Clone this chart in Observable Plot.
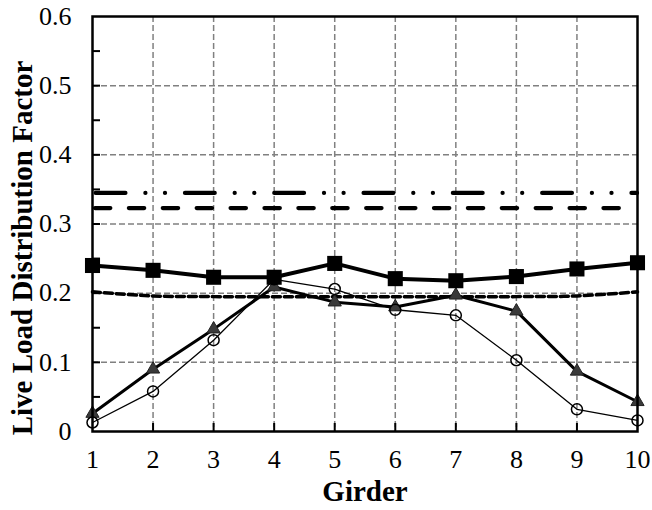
<!DOCTYPE html>
<html><head><meta charset="utf-8">
<script src="https://cdn.jsdelivr.net/npm/d3@7"></script>
<script src="https://cdn.jsdelivr.net/npm/@observablehq/plot@0.6"></script>
<style>
body{margin:0;background:#fff}
#chart svg{display:block}
</style>
</head><body><div id="chart"></div>
<script>
const girders = [1, 2, 3, 4, 5, 6, 7, 8, 9, 10];
const squareSeries = [0.240, 0.233, 0.223, 0.223, 0.243, 0.221, 0.218, 0.224, 0.235, 0.244];
const triangleSeries = [0.026, 0.090, 0.148, 0.209, 0.187, 0.180, 0.197, 0.174, 0.087, 0.043];
const circleSeries = [0.013, 0.058, 0.132, 0.220, 0.206, 0.176, 0.168, 0.103, 0.032, 0.016];
const shortDashSeries = [0.202, 0.196, 0.195, 0.195, 0.195, 0.195, 0.195, 0.195, 0.196, 0.202];
const dashDotLevel = [0.345];
const dashLevel = [0.323];
const yTickValues = [0, 0.1, 0.2, 0.3, 0.4, 0.5, 0.6];
const yTickLabels = ["0", "0.1", "0.2", "0.3", "0.4", "0.5", "0.6"];
const yMinorTicks = [0.05, 0.1, 0.15, 0.2, 0.25, 0.3, 0.35, 0.4, 0.45, 0.5, 0.55];
const xTickLabels = ["1", "2", "3", "4", "5", "6", "7", "8", "9", "10"];
const xTitle = "Girder";
const yTitle = "Live Load Distribution Factor";

const toRows = vals => girders.map((g, i) => ({girder: g, value: vals[i]}));
const squares = toRows(squareSeries);
const triangles = toRows(triangleSeries);
const circles = toRows(circleSeries);
const shortDash = toRows(shortDashSeries);
const innerGirders = girders.slice(1, -1);
const innerY = yTickValues.slice(1, -1);

const font = "'Liberation Serif', 'Times New Roman', Times, serif";
const gridStyle = {stroke: "#808080", strokeOpacity: 1, strokeWidth: 1.5, strokeDasharray: "6,3"};

const chart = Plot.plot({
  width: 652,
  height: 510,
  marginLeft: 92,
  marginRight: 15,
  marginTop: 16,
  marginBottom: 79,
  style: {fontFamily: font, background: "#fff", color: "#000"},
  x: {domain: [1, 10]},
  y: {domain: [0, 0.6]},
  marks: [
    Plot.gridX(innerGirders, gridStyle),
    Plot.gridY(innerY, gridStyle),
    Plot.tickY(yMinorTicks, {y: d => d, stroke: "#000", strokeWidth: 2, insetRight: 537}),
    Plot.tickX(innerGirders, {x: d => d, stroke: "#000", strokeWidth: 2, insetTop: 407}),
    Plot.ruleY(dashDotLevel, {stroke: "#000", strokeWidth: 4.3, strokeLinecap: "round",
      strokeDasharray: "29.7,20,0,19.6,0,20", strokeDashoffset: -3.7}),
    Plot.ruleY(dashLevel, {stroke: "#000", strokeWidth: 4.3, strokeLinecap: "round",
      strokeDasharray: "15.3,18.6", strokeDashoffset: -3}),
    Plot.line(shortDash, {x: "girder", y: "value", curve: "catmull-rom", stroke: "#000",
      strokeWidth: 3.5, strokeDasharray: "8,4"}),
    Plot.line(triangles, {x: "girder", y: "value", stroke: "#000", strokeWidth: 3}),
    Plot.line(circles, {x: "girder", y: "value", stroke: "#000", strokeWidth: 1.3}),
    Plot.line(squares, {x: "girder", y: "value", stroke: "#000", strokeWidth: 4}),
    Plot.dot(triangles, {x: "girder", y: "value", symbol: "triangle", r: 4.9,
      fill: "#3a3a3a", stroke: "#222", strokeWidth: 1}),
    Plot.dot(circles, {x: "girder", y: "value", symbol: "circle", r: 5.5,
      fill: "none", stroke: "#000", strokeWidth: 1.5}),
    Plot.dot(squares, {x: "girder", y: "value", symbol: "square", r: 8.5, fill: "#000", stroke: "none"}),
    Plot.frame({stroke: "#000", strokeWidth: 2.5}),
    Plot.axisY(yTickValues, {tickSize: 0, tickPadding: 21, fontSize: 26, label: null,
      tickFormat: d => yTickLabels[yTickValues.indexOf(d)]}),
    Plot.axisX(girders, {tickSize: 0, tickPadding: 18, fontSize: 26, label: null,
      tickFormat: d => xTickLabels[girders.indexOf(d)]}),
    Plot.text([xTitle], {frameAnchor: "bottom", textAnchor: "middle", lineAnchor: "middle",
      dy: 60, fontSize: 29, fontWeight: "bold", fill: "#000"}),
    Plot.text([yTitle], {frameAnchor: "left", textAnchor: "middle", lineAnchor: "middle",
      rotate: -90, dx: -69.6, dy: 24, fontSize: 29, fontWeight: "bold", fill: "#000"})
  ]
});
document.getElementById("chart").appendChild(chart);
</script>
</body></html>
